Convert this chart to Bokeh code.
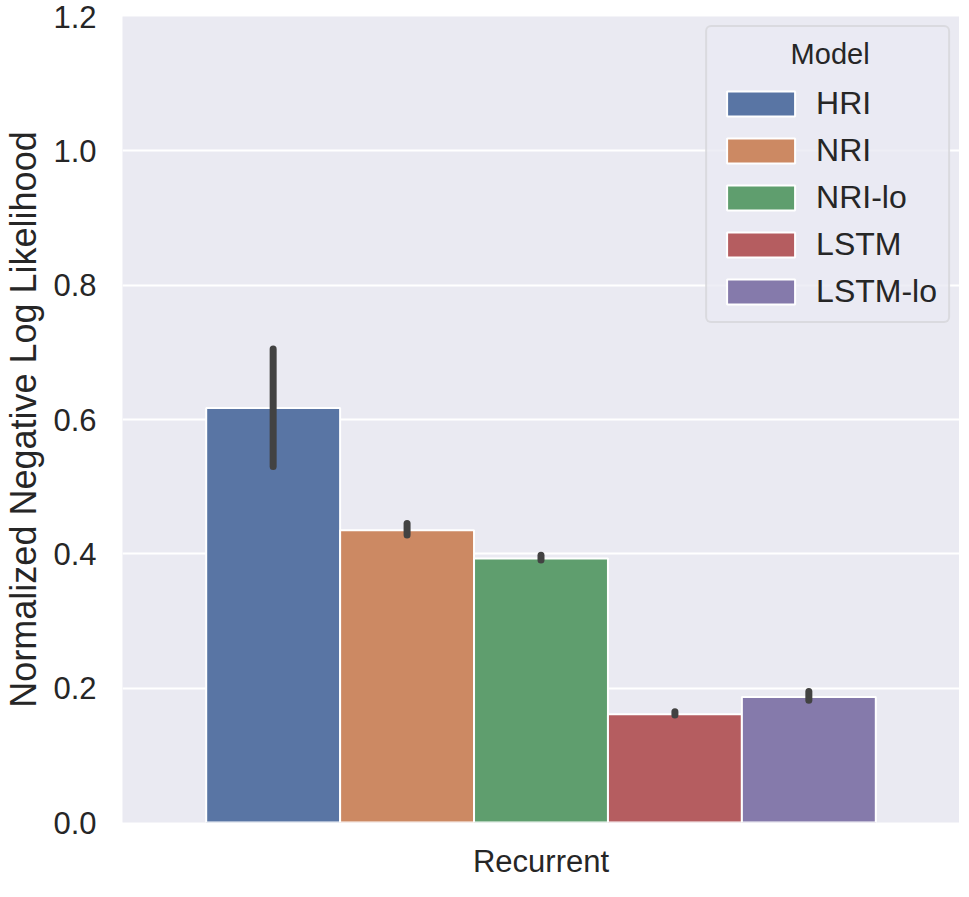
from bokeh.plotting import figure
from bokeh.models import FactorRange, FixedTicker, PrintfTickFormatter, Legend, LegendItem, ColumnDataSource
from bokeh.transform import dodge
from bokeh.embed import file_html
from bokeh.resources import INLINE

# ---- data ----
category = ["Recurrent"]
models = ["HRI", "NRI", "NRI-lo", "LSTM", "LSTM-lo"]
means = [0.617, 0.435, 0.393, 0.161, 0.187]
ci_low = [0.530, 0.428, 0.391, 0.160, 0.182]
ci_high = [0.705, 0.445, 0.398, 0.165, 0.195]
y_ticks = [0.0, 0.2, 0.4, 0.6, 0.8, 1.0, 1.2]
colors = ["#5975A4", "#CC8963", "#5F9E6E", "#B55D60", "#857AAB"]

FONT = "Liberation Sans"
TXT = "#262626"
BG = "#EAEAF2"

p = figure(x_range=FactorRange(*category), y_range=(0, 1.2),
           width=959, height=881, output_backend="svg", toolbar_location=None,
           min_border_top=16, min_border_right=0, min_border_left=0, min_border_bottom=0)
p.x_range.range_padding = 0
p.background_fill_color = BG
p.outline_line_color = None
p.xgrid.grid_line_color = None
p.ygrid.grid_line_color = "white"
p.ygrid.grid_line_width = 2

p.yaxis.ticker = FixedTicker(ticks=y_ticks)
p.yaxis.formatter = PrintfTickFormatter(format="%.1f")
for ax in (p.xaxis[0], p.yaxis[0]):
    ax.axis_line_color = None
    ax.major_tick_line_color = None
    ax.minor_tick_line_color = None
    ax.major_tick_out = 0
    ax.major_tick_in = 0
    ax.major_label_text_font = FONT
    ax.major_label_text_font_size = "31px"
    ax.major_label_text_color = TXT
    ax.axis_label_text_font = FONT
    ax.axis_label_text_font_style = "normal"
    ax.axis_label_text_color = TXT
p.yaxis.axis_label = "Normalized Negative Log Likelihood"
p.yaxis.axis_label_text_font_size = "36px"
p.yaxis.major_label_standoff = 26
p.yaxis.axis_label_standoff = 6
p.xaxis.axis_label = None
p.xaxis.major_label_standoff = 21

n = len(models)
bw = 0.8 / n
items = []
for i, (m, c) in enumerate(zip(models, colors)):
    off = -0.4 + bw * (i + 0.5)
    src = ColumnDataSource(dict(x=category, top=[means[i]], lo=[ci_low[i]], hi=[ci_high[i]]))
    r = p.vbar(x=dodge("x", off, range=p.x_range), top="top", bottom=0, width=bw, source=src,
               fill_color=c, line_color="white", line_width=2)
    p.segment(x0=dodge("x", off, range=p.x_range), x1=dodge("x", off, range=p.x_range),
              y0="lo", y1="hi", source=src, line_color="#424242", line_width=7, line_cap="round")
    items.append(LegendItem(label=m, renderers=[r]))

legend = Legend(items=items, location="top_right", margin=9,
                title="\u00a0" * 9 + "Model")
legend.title_text_font = FONT
legend.title_text_font_size = "29px"
legend.title_text_font_style = "normal"
legend.title_text_color = TXT
legend.title_standoff = 14
legend.label_text_font = FONT
legend.label_text_font_size = "32px"
legend.label_text_color = TXT
legend.glyph_width = 85
legend.glyph_height = 31
legend.label_standoff = 13
legend.label_height = 31
legend.spacing = 10
legend.padding = 11
legend.background_fill_color = BG
legend.background_fill_alpha = 0.8
legend.border_line_color = "#CCCCCC"
legend.border_line_width = 2
if "border_radius" in Legend.properties():
    legend.border_radius = 6
p.add_layout(legend, "center")

open("out.html", "w").write(file_html(p, INLINE))
